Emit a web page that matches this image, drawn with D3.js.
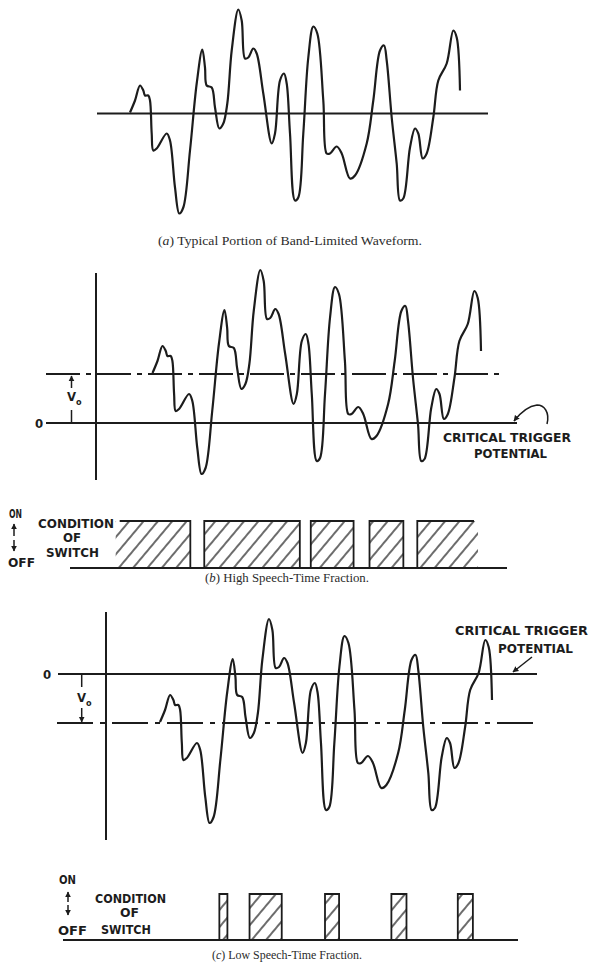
<!DOCTYPE html>
<html>
<head>
<meta charset="utf-8">
<title>Speech-time fraction</title>
<script src="https://cdn.jsdelivr.net/npm/d3@7"></script>
<style>
body { margin: 0; background: #fff; }
.lbl { font-family: "DejaVu Sans Condensed", "Liberation Sans Narrow", "DejaVu Sans", sans-serif; font-weight: bold; fill: #1c1c1c; }
.cap { font-family: "Liberation Serif", "DejaVu Serif", serif; fill: #2b2b2b; }
</style>
</head>
<body>
<script>

var waveT = [0, 5, 10, 13.3, 15, 18.3, 20, 21.7, 23.3, 26.7, 36.7, 40, 45, 49.3, 53.3, 60, 66.7, 72.3, 75, 76.7,
             81.7, 85, 89.3, 93.3, 97.3, 101.7, 108.3, 111.7, 115, 118.3, 123.3, 126.7, 133.3, 141.7, 145, 150, 154, 156.7,
             160, 165, 168.3, 173.3, 178.3, 183.3, 187.3, 193.3, 196.7, 200, 206.7, 211.7, 220, 225, 236.7, 243.3,
             250, 254, 256.7, 261.7, 266.7, 270, 273.3, 280, 285, 288.3, 292.7, 296.7, 303.3, 308.3, 316.7, 323.3, 326.7, 330];
var waveV = [1, 13, 28, 23, 18, 18, 13, -20, -37, -35, -20, -27, -74, -100, -94, -37, 30, 64, 46, 28,
             26, 6, -15, -10, 10, 63, 104, 93, 55, 56, 65, 60, 20, -30, -20, 33, 40, 30,
             -20, -87, -84, -20, 56, 87, 80, 13, -40, -40, -33, -40, -65, -62, -30, 13,
             63, 68, 53, -4, -50, -87, -85, -34, -15, -20, -45, -40, -4, 33, 50, 83, 76, 23];

// offset between the trace's reference line and the trigger level
var v0 = 49;

// switch ON intervals, same t units
var onHigh = [[-37, 38], [52, 148], [159, 202], [218, 252], [266, 327]];
var onLow = [[59, 67], [89, 121], [164, 178], [230, 245], [296, 311]];

var capLetters = ["a", "b", "c"];
var capTexts = [" Typical Portion of Band-Limited Waveform.", " High Speech-Time Fraction.", " Low Speech-Time Fraction."];

var ink = "#1c1c1c",
    width = 589,
    height = 971;

var wave = waveT.map(function(t, i) { return [t, waveV[i]]; });

var svg = d3.select("body").append("svg")
    .attr("width", width)
    .attr("height", height);

var defs = svg.append("defs");

defs.append("pattern")
    .attr("id", "hatch")
    .attr("patternUnits", "userSpaceOnUse")
    .attr("width", 11)
    .attr("height", 11)
    .attr("patternTransform", "rotate(40)")
  .append("line")
    .attr("x1", 5).attr("y1", 0)
    .attr("x2", 5).attr("y2", 11)
    .attr("stroke", ink)
    .attr("stroke-width", 1.3);

defs.append("marker")
    .attr("id", "head")
    .attr("viewBox", "0 0 10 10")
    .attr("refX", 9).attr("refY", 5)
    .attr("markerWidth", 6).attr("markerHeight", 7)
    .attr("markerUnits", "userSpaceOnUse")
    .attr("orient", "auto")
  .append("path")
    .attr("d", "M0,0L10,5L0,10z")
    .attr("fill", ink);

function yFor(base) {
  return d3.scaleLinear().domain([0, 100]).range([base, base - 100]);
}

function drawWave(x, y) {
  var line = d3.line()
      .x(function(d) { return x(d[0]); })
      .y(function(d) { return y(d[1]); })
      .curve(d3.curveCatmullRom.alpha(0.5));
  svg.append("path")
      .datum(wave)
      .attr("d", line)
      .attr("fill", "none")
      .attr("stroke", ink)
      .attr("stroke-width", 2.2)
      .attr("stroke-linejoin", "round");
}

function hline(x1, x2, y, w, dash) {
  var l = svg.append("line")
      .attr("x1", x1).attr("x2", x2)
      .attr("y1", y).attr("y2", y)
      .attr("stroke", ink)
      .attr("stroke-width", w);
  if (dash) l.attr("stroke-dasharray", dash);
  return l;
}

function vline(x, y1, y2, w, arrow) {
  var l = svg.append("line")
      .attr("x1", x).attr("x2", x)
      .attr("y1", y1).attr("y2", y2)
      .attr("stroke", ink)
      .attr("stroke-width", w);
  if (arrow) l.attr("marker-end", "url(#head)");
  return l;
}

function label(txt, x, y, len, size) {
  return svg.append("text")
      .attr("class", "lbl")
      .attr("x", x).attr("y", y)
      .attr("font-size", size || 12)
      .attr("textLength", len)
      .attr("lengthAdjust", "spacingAndGlyphs")
      .text(txt);
}

function caption(i, x, y, len) {
  var t = svg.append("text")
      .attr("class", "cap")
      .attr("x", x).attr("y", y)
      .attr("font-size", 12.5)
      .attr("textLength", len)
      .attr("lengthAdjust", "spacingAndGlyphs");
  t.append("tspan").text("(");
  t.append("tspan").attr("font-style", "italic").text(capLetters[i]);
  t.append("tspan").text(")" + capTexts[i]);
}

function vLabel(x, y) {
  var t = svg.append("text")
      .attr("class", "lbl")
      .attr("x", x).attr("y", y)
      .attr("font-size", 13);
  t.append("tspan").text("V");
  t.append("tspan").attr("font-size", 9).attr("dy", 4).text("o");
}

function switchRow(x, data, base, top, openLeft, openRight) {
  svg.selectAll(null)
    .data(data)
    .enter().append("rect")
      .attr("x", function(d) { return x(d[0]); })
      .attr("y", top)
      .attr("width", function(d) { return x(d[1]) - x(d[0]); })
      .attr("height", base - top)
      .attr("fill", "url(#hatch)");

  svg.selectAll(null)
    .data(data)
    .enter().append("path")
      .attr("d", function(d, i) {
        var x0 = x(d[0]), x1 = x(d[1]);
        var p = "";
        if (i === 0 && openLeft) p += "M" + (x0 + 4) + "," + top;
        else p += "M" + x0 + "," + base + "L" + x0 + "," + top;
        if (i === data.length - 1 && openRight) p += "L" + (x1 - 4) + "," + top;
        else p += "L" + x1 + "," + top + "L" + x1 + "," + base;
        return p;
      })
      .attr("fill", "none")
      .attr("stroke", ink)
      .attr("stroke-width", 1.8);
}

// ---- (a) ----
var xa = d3.scaleLinear().domain([0, 330]).range([130, 460]),
    ya = yFor(113.5);

hline(97, 488, ya(0), 1.8);
drawWave(xa, ya);
caption(0, 158, 245, 264);

// ---- (b) ----
var xb = d3.scaleLinear().domain([0, 330]).range([152.5, 481]),
    yb = yFor(374);

vline(96, 273, 480, 2);
hline(46, 503, yb(0), 1.8, "34,6,5,6");
hline(46, 517, yb(-v0), 1.8);
svg.append("text").attr("class", "lbl").attr("x", 35).attr("y", yb(-v0) + 5).attr("font-size", 13).text("0");

vline(71.5, 388, 376, 1.5, true);
vline(71.5, 410, yb(-v0), 1.5);
vLabel(67, 401);

drawWave(xb, yb);

label("CRITICAL  TRIGGER", 443, 442, 128, 13);
label("POTENTIAL", 474, 458, 73, 13);
svg.append("path")
    .attr("d", "M547,424C550,412,544,405,537,405C529,406,521,412,514,421")
    .attr("fill", "none")
    .attr("stroke", ink)
    .attr("stroke-width", 1.5)
    .attr("marker-end", "url(#head)");

// switch row (b)
label("ON", 9, 518, 13, 12);
vline(14, 536, 524, 1.5, true);
vline(14, 540, 551, 1.5, true);
label("OFF", 8, 567, 27, 12);
label("CONDITION", 38, 528, 76);
label("OF", 63, 542, 18);
label("SWITCH", 46, 557, 53);
hline(70, 507, 568, 1.8);
switchRow(xb, onHigh, 568, 521, true, true);
caption(1, 205, 582, 164);

// ---- (c) ----
var xc = d3.scaleLinear().domain([0, 330]).range([160, 492]),
    yc = yFor(723);

vline(106, 612, 840, 2);
hline(58, 537, yc(v0), 1.8);
hline(57, 540, yc(0), 1.8, "36,7,5,7");
svg.append("text").attr("class", "lbl").attr("x", 43).attr("y", yc(v0) + 5).attr("font-size", 13).text("0");

vline(81.7, yc(v0), 687, 1.5);
vline(81.7, 708, 722, 1.5, true);
vLabel(77, 702);

drawWave(xc, yc);

label("CRITICAL  TRIGGER", 455, 635, 133, 13);
label("POTENTIAL", 498, 653, 75, 13);
svg.append("line")
    .attr("x1", 532).attr("y1", 657)
    .attr("x2", 513).attr("y2", 672)
    .attr("stroke", ink)
    .attr("stroke-width", 1.5)
    .attr("marker-end", "url(#head)");

// switch row (c)
label("ON", 59, 884, 17, 12);
vline(68, 902, 892, 1.5, true);
vline(68, 905, 915, 1.5, true);
label("OFF", 58, 935, 29, 12);
label("CONDITION", 95, 903, 71);
label("OF", 120, 917, 19);
label("SWITCH", 101, 934, 50);
hline(63, 518, 940, 1.8);
switchRow(xc, onLow, 940, 894, false, false);
caption(2, 212, 959, 150);

</script>
</body>
</html>
